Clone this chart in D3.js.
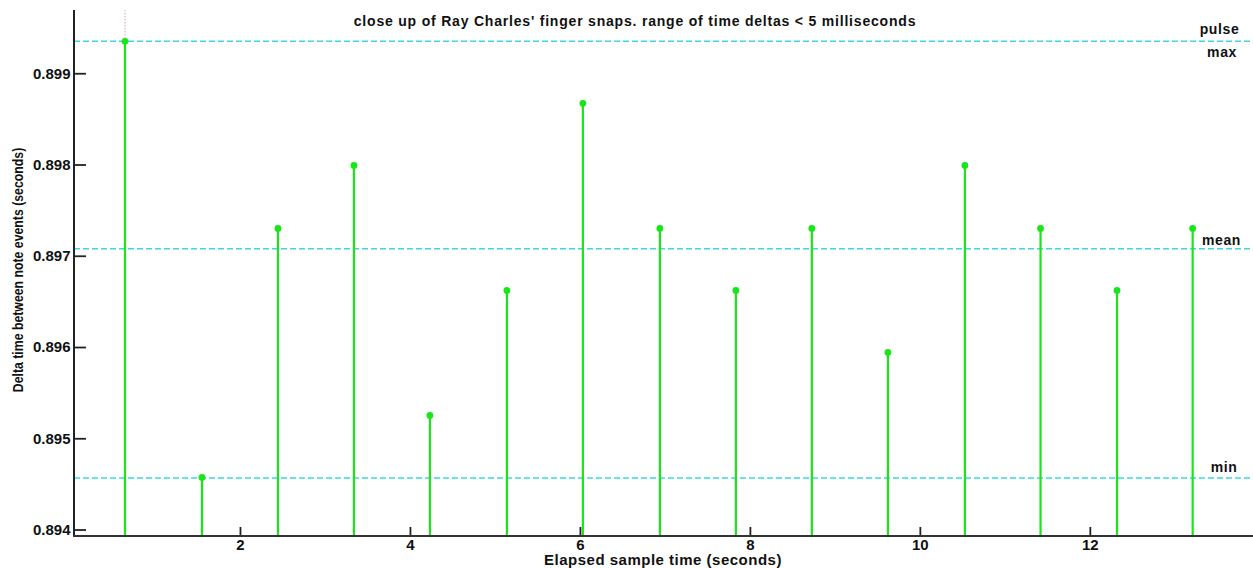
<!DOCTYPE html>
<html>
<head>
<meta charset="utf-8">
<script src="https://cdn.jsdelivr.net/npm/d3@7"></script>
<style>
  html, body { margin: 0; padding: 0; background: #fff; }
  svg { display: block; }
  text { font-family: "Liberation Sans", Arial, Helvetica, sans-serif; fill: #111; }
</style>
</head>
<body>
<svg id="chart" width="1253" height="568"></svg>
<script>
// ---- data ----
const sampleTimes = [0.647, 1.553, 2.447, 3.341, 4.235, 5.141, 6.035, 6.941, 7.835, 8.729, 9.624, 10.53, 11.42, 12.32, 13.21];
const deltaValues = [0.89935, 0.89457, 0.89730, 0.89799, 0.89525, 0.89662, 0.89867, 0.89730, 0.89662, 0.89730, 0.89594, 0.89799, 0.89730, 0.89662, 0.89730];
const refNames = ["max", "mean", "min"];
const refValues = [0.89935, 0.897077, 0.894565];
const yTicks = [0.894, 0.895, 0.896, 0.897, 0.898, 0.899];
const xTicks = [2, 4, 6, 8, 10, 12];
const titleText = "close up of Ray Charles' finger snaps. range of time deltas < 5 milliseconds";
const xLabelText = "Elapsed sample time (seconds)";
const yLabelText = "Delta time between note events (seconds)";

// ---- layout ----
const plotL = 74, plotR = 1253, plotT = 10, plotB = 536;
const svg = d3.select("#chart");

const x = d3.scaleLinear().domain([0.047, 13.92]).range([plotL, plotR]);
const y = d3.scaleLinear().domain([0.893929, 0.899693]).range([plotB, plotT]);

const green = "#18e618";
const cyan = "#3ad8e2";

// reference lines
svg.selectAll(".ref").data(refValues).enter().append("line")
  .attr("x1", plotL).attr("x2", plotR)
  .attr("y1", d => y(d)).attr("y2", d => y(d))
  .attr("stroke", cyan).attr("stroke-width", 1.5)
  .attr("stroke-dasharray", "6,3");

// dotted pulse marker above first stem
svg.append("line")
  .attr("x1", x(sampleTimes[0])).attr("x2", x(sampleTimes[0]))
  .attr("y1", plotT).attr("y2", y(deltaValues[0]))
  .attr("stroke", "#d9b3bd").attr("stroke-width", 1.2)
  .attr("stroke-dasharray", "1.5,1.5");

// stems
svg.selectAll(".stem").data(sampleTimes).enter().append("line")
  .attr("x1", d => x(d)).attr("x2", d => x(d))
  .attr("y1", plotB).attr("y2", (d, i) => y(deltaValues[i]))
  .attr("stroke", green).attr("stroke-width", 2.2);

svg.selectAll(".dot").data(sampleTimes).enter().append("circle")
  .attr("cx", d => x(d)).attr("cy", (d, i) => y(deltaValues[i]))
  .attr("r", 3.4).attr("fill", green);

// axes
const yAxis = d3.axisRight(y).tickValues(yTicks).tickSize(12).tickFormat(d3.format(".3f"));
const gy = svg.append("g").attr("transform", `translate(${plotL},0)`).call(yAxis);
gy.select(".domain").remove();
gy.selectAll(".tick line").attr("stroke", "#222").attr("stroke-width", 1.8);
gy.selectAll(".tick text").attr("x", -3.5).attr("text-anchor", "end")
  .style("font-size", "15px").style("font-weight", "bold").attr("fill", "#111");

const xAxis = d3.axisTop(x).tickValues(xTicks).tickSize(9).tickFormat(d3.format("d"));
const gx = svg.append("g").attr("transform", `translate(0,${plotB})`).call(xAxis);
gx.select(".domain").remove();
gx.selectAll(".tick line").attr("stroke", "#222").attr("stroke-width", 1.8);
gx.selectAll(".tick text").attr("y", 9).attr("dy", "0.35em")
  .style("font-size", "15px").style("font-weight", "bold").attr("fill", "#111");

svg.append("line").attr("x1", plotL).attr("x2", plotL).attr("y1", plotT).attr("y2", plotB + 1)
  .attr("stroke", "#222").attr("stroke-width", 2);
svg.append("line").attr("x1", plotL - 1).attr("x2", plotR).attr("y1", plotB).attr("y2", plotB)
  .attr("stroke", "#333").attr("stroke-width", 2.2);

// labels
svg.append("text").attr("x", 635).attr("y", 26).attr("text-anchor", "middle")
  .style("font-size", "14px").style("font-weight", "bold").style("letter-spacing", "0.8px").text(titleText);
svg.append("text").attr("x", 663).attr("y", 565).attr("text-anchor", "middle")
  .style("font-size", "15px").style("font-weight", "bold").style("letter-spacing", "0.5px").text(xLabelText);
svg.append("text").attr("transform", "translate(23,270) rotate(-90) scale(0.82,1)").attr("text-anchor", "middle")
  .style("font-size", "15px").style("font-weight", "bold").text(yLabelText);

// right-side reference labels
svg.append("text").attr("x", 1219.5).attr("y", 33.5).attr("text-anchor", "middle")
  .style("font-size", "14px").style("font-weight", "bold").style("letter-spacing", "0.6px").text("pulse");
const refLabelY = [56.5, 245, 472];
const refLabelX = [1222, 1221.5, 1224];
svg.selectAll(".reflab").data(refNames).enter().append("text")
  .attr("x", (d, i) => refLabelX[i]).attr("y", (d, i) => refLabelY[i]).attr("text-anchor", "middle")
  .style("font-size", "14px").style("font-weight", "bold").style("letter-spacing", "0.6px").text(d => d);
</script>
</body>
</html>
